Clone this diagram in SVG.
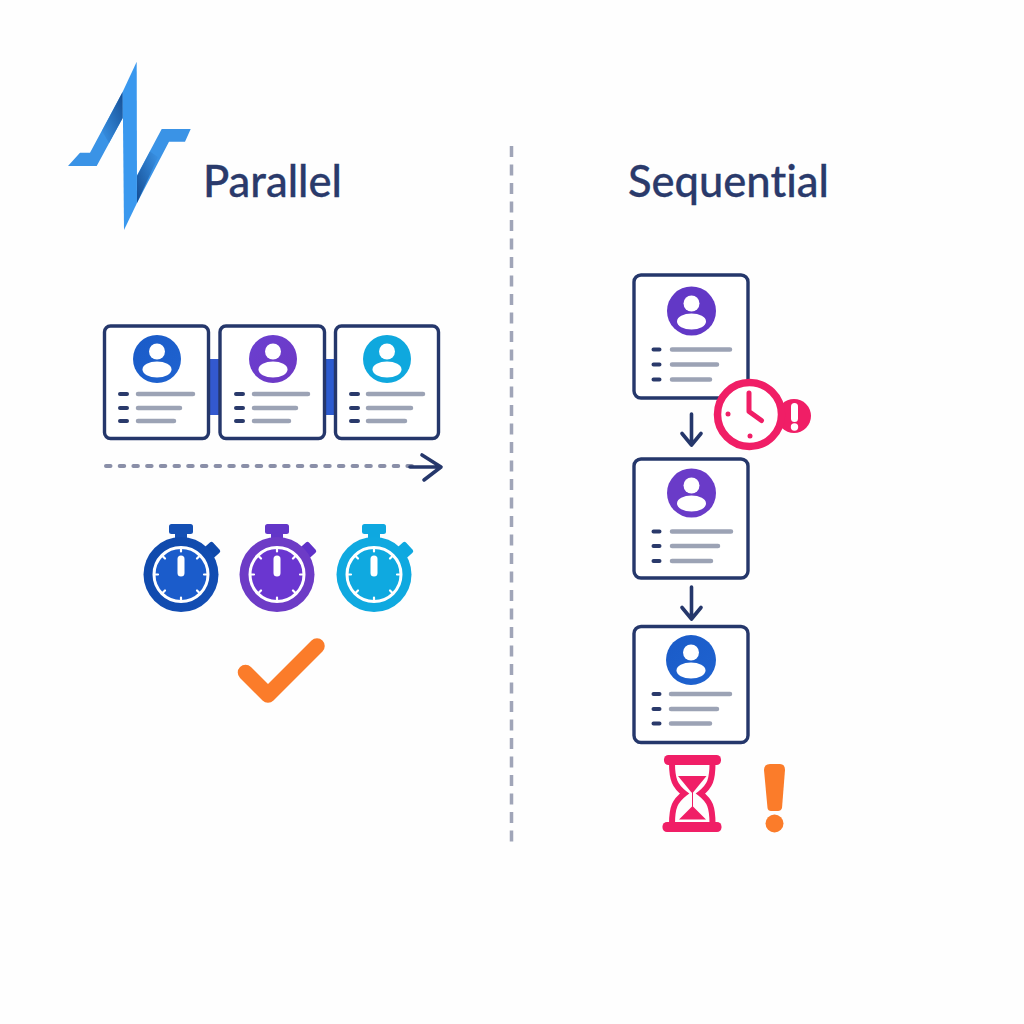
<svg xmlns="http://www.w3.org/2000/svg" width="1024" height="1024" viewBox="0 0 1024 1024">
<style>
.title{font-family:"Lato","Liberation Sans",sans-serif;font-size:43.500px;font-weight:500;fill:#2a3a6b;stroke:#2a3a6b;stroke-width:.3;font-variant-ligatures:none}
.card{fill:#fff;stroke:#25376b;stroke-width:3.400}
.head,.body{fill:#fff}
.bul{stroke:#2a3a6b;stroke-width:4;stroke-linecap:round}
.ln{stroke:#9ca3b5;stroke-width:4.500;stroke-linecap:round}
.arr{fill:none;stroke:#25376b;stroke-width:3.600;stroke-linecap:round;stroke-linejoin:round}
.tick{stroke:#fff;stroke-width:2.200;stroke-linecap:round}
</style>
<defs>
<linearGradient id="gBlue" x1="0" y1="0" x2="1" y2="1"><stop offset="0" stop-color="#1a5bc8"/><stop offset="1" stop-color="#1f63d0"/></linearGradient>
<linearGradient id="gPurple" x1="0" y1="0" x2="1" y2="1"><stop offset="0" stop-color="#6a3fd0"/><stop offset="1" stop-color="#6e38c4"/></linearGradient>
<linearGradient id="gSw1" x1="0" y1="0" x2="1" y2="1"><stop offset="0" stop-color="#0f49ab"/><stop offset="1" stop-color="#134eb4"/></linearGradient>
<linearGradient id="gDark1" x1="0" y1="1" x2="1" y2="0"><stop offset="0" stop-color="#3a93e6"/><stop offset="1" stop-color="#164f95"/></linearGradient>
<linearGradient id="gDark2" x1="0" y1="1" x2="1" y2="0"><stop offset="0" stop-color="#144c92"/><stop offset="1" stop-color="#3a93e6"/></linearGradient>
<g id="person"><circle class="head" cx="0" cy="-7.500" r="8"/><ellipse class="body" cx="0" cy="10.500" rx="14.500" ry="8"/></g>
<g id="watchface">
<circle cx="0" cy="0" r="27" fill="none" stroke="#fff" stroke-width="3"/>
<path class="tick" d="M0-27V-23M0 27V23M-27 0H-23M27 0H23M-18.500-18.500L-16-16M18.500-18.500L16-16M-18.500 18.500L-16 16M18.500 18.500L16 16"/>
<rect x="-3.500" y="-19" width="7" height="21" rx="3.500" fill="#fff"/>
</g>
</defs>
<rect width="1024" height="1024" fill="#fefefe"/>

<g id="logo">
<polygon points="68,166 80,152.700 90,152.700 122.700,91.700 122.700,118 96.700,166" fill="#3a93e6"/>
<polygon points="122.700,91.700 122.700,118 109,143 102,131" fill="url(#gDark1)"/>
<polygon points="136.700,176 161.700,129 190.700,129 185,141.700 169,141.700 137,203" fill="#3a93e6"/>
<polygon points="137,176 150,151.500 158,157 137,203" fill="url(#gDark2)"/>
<polygon points="136.700,61.700 137,203 124,230 122.700,91.700" fill="#3a98ee"/>
</g>
<text id="title-parallel" class="title" x="203" y="196.500">Parallel</text>
<text id="title-sequential" class="title" x="628" y="196.500">Sequential</text>

<g id="connectors">
<line id="divider" x1="511.500" y1="146" x2="511.500" y2="843" stroke="#a0a5b8" stroke-width="3.500" stroke-dasharray="11 7.500"/>
<rect x="209" y="359" width="11" height="56" fill="#3359cf"/>
<rect x="325" y="359" width="11" height="56" fill="#2c5bd0"/>
<line x1="106" y1="466" x2="412" y2="466" stroke="#8a8fa8" stroke-width="4" stroke-linecap="round" stroke-dasharray="4.500 9.200"/>
<path class="arr" d="M410 467H440M422 455L441 467L424 480"/>
<path class="arr" d="M691.500 414V445M682 433.500L691.500 445L701 433.500"/>
<path class="arr" d="M691.500 587V619M682 607.500L691.500 619L701 607.500"/>
</g>

<g id="card-p1">
<rect class="card" x="104.500" y="326" width="104" height="112.500" rx="6"/>
<circle cx="157" cy="359" r="24" fill="url(#gBlue)"/><use href="#person" x="157" y="359"/>
<path class="bul" d="M120 394H127M120 408H127M120 421H127"/>
<path class="ln" d="M138 394H193M138 408H180M138 421H174"/>
</g>
<g id="card-p2">
<rect class="card" x="220" y="326" width="104.500" height="112.500" rx="6"/>
<circle cx="273" cy="359" r="24" fill="url(#gPurple)"/><use href="#person" x="273" y="359"/>
<path class="bul" d="M236 394H243M236 408H243M236 421H243"/>
<path class="ln" d="M254 394H308M254 408H296M254 421H289"/>
</g>
<g id="card-p3">
<rect class="card" x="335.500" y="326" width="103" height="112.500" rx="6"/>
<circle cx="387" cy="359" r="24" fill="#0fa8de"/><use href="#person" x="387" y="359"/>
<path class="bul" d="M351 394H358M351 408H358M351 421H358"/>
<path class="ln" d="M368 394H423M368 408H411M368 421H405"/>
</g>

<g id="stopwatch-1" transform="translate(181 574.500)">
<rect x="-12" y="-50.500" width="24" height="10" rx="2.500" fill="#1450b4"/><rect x="-6" y="-42" width="12" height="8" fill="#1450b4"/>
<rect x="24" y="-31" width="13" height="14" rx="2" transform="rotate(-42 30.500 -24)" fill="#0f49ab"/>
<circle r="37.500" fill="url(#gSw1)"/><circle r="27" fill="#1b5ccb"/><use href="#watchface"/>
</g>
<g id="stopwatch-2" transform="translate(277 574.500)">
<rect x="-12" y="-50.500" width="24" height="10" rx="2.500" fill="#6336c8"/><rect x="-6" y="-42" width="12" height="8" fill="#6336c8"/>
<rect x="24" y="-31" width="13" height="14" rx="2" transform="rotate(-42 30.500 -24)" fill="#5f30c8"/>
<circle r="37.500" fill="#6d3bc6"/><circle r="27" fill="#6a36d0"/><use href="#watchface"/>
</g>
<g id="stopwatch-3" transform="translate(374 574.500)">
<rect x="-12" y="-50.500" width="24" height="10" rx="2.500" fill="#0ea8e0"/><rect x="-6" y="-42" width="12" height="8" fill="#0ea8e0"/>
<rect x="24" y="-31" width="13" height="14" rx="2" transform="rotate(-42 30.500 -24)" fill="#0ea8e0"/>
<circle r="37.500" fill="#0fa9e0"/><use href="#watchface"/>
</g>
<path id="check" d="M245.500 672.500L268 695L317 646" fill="none" stroke="#fb7c2a" stroke-width="15.500" stroke-linecap="round" stroke-linejoin="round"/>

<g id="card-s1">
<rect class="card" x="634" y="275" width="114" height="123" rx="7"/>
<circle cx="691.500" cy="311" r="24.500" fill="#6238c6"/><use href="#person" x="691.500" y="311"/>
<path class="bul" d="M653.500 349.500H659.500M653.500 364.500H659.500M653.500 379.500H659.500"/>
<path class="ln" d="M672 349.500H730M672 364.500H717M672 379.500H710"/>
</g>
<g id="clock-alert">
<circle cx="794" cy="416" r="17" fill="#f01e66"/>
<circle cx="749.500" cy="414.500" r="32" fill="#fff" stroke="#f01e66" stroke-width="7.500"/>
<path d="M749 393V411.500L761.500 420.500" fill="none" stroke="#f01e66" stroke-width="5" stroke-linecap="round" stroke-linejoin="round"/>
<circle cx="728" cy="414" r="2.500" fill="#f01e66"/><circle cx="750" cy="436" r="2.500" fill="#f01e66"/>
<rect x="791" y="403" width="7" height="19" rx="3.500" fill="#fff"/><circle cx="794.500" cy="427" r="3.700" fill="#fff"/>
</g>
<g id="card-s2">
<rect class="card" x="634" y="459" width="114" height="119" rx="7"/>
<circle cx="691.500" cy="493" r="24.500" fill="#6a3bc8"/><use href="#person" x="691.500" y="493"/>
<path class="bul" d="M653.500 531.500H659.500M653.500 546H659.500M653.500 561H659.500"/>
<path class="ln" d="M672 531.500H731M672 546H718M672 561H711"/>
</g>
<g id="card-s3">
<rect class="card" x="634" y="626.500" width="114" height="116" rx="7"/>
<circle cx="691" cy="660" r="25" fill="url(#gBlue)"/><use href="#person" x="691" y="660"/>
<path class="bul" d="M653.500 694H659.500M653.500 709H659.500M653.500 723.500H659.500"/>
<path class="ln" d="M671 694H730M671 709H717M671 723.500H710"/>
</g>

<g id="hourglass" fill="#f01e66">
<rect x="664" y="755" width="57" height="10" rx="4.500"/>
<rect x="662.500" y="822" width="59" height="10" rx="4.500"/>
<path d="M672 763C672 780 675 786 684.500 793.500C675 801 672 807 672 824M712.500 763C712.500 780 710 786 700.500 793.500C710 801 712.500 807 712.500 824" fill="none" stroke="#f01e66" stroke-width="6"/>
<path d="M678 776H706.500L693 792.500H691.500Z"/>
<path d="M679 819.500L692.500 806L706 819.500Z"/>
<rect x="692" y="790" width="1" height="20"/>
</g>
<g id="exclaim" fill="#fb7c2a">
<path d="M770 764H780Q785 764 785 770L782 808Q781 811 778 811H771Q768 811 767.500 808L764 770Q764 764 770 764Z"/>
<circle cx="774.500" cy="823.500" r="9"/>
</g>
</svg>
